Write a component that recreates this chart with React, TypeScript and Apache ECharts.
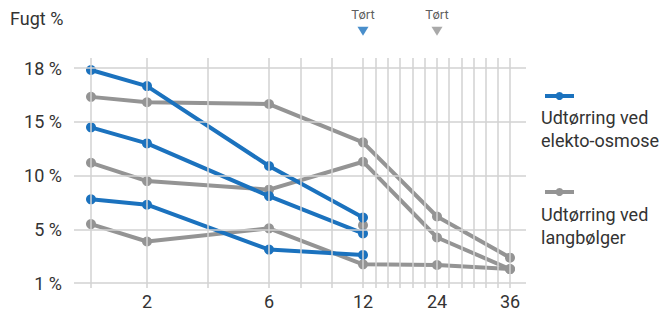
import React, { useEffect, useRef } from "react";
import * as echarts from "echarts";

// ---- Data (months, moisture %) ----
const months = [1, 2, 6, 12, 24, 36];
const osmoseMonths = [1, 2, 6, 12];
const osmoseA = [17.9, 17.0, 10.9, 6.1];
const osmoseB = [14.5, 13.0, 8.1, 4.7];
const osmoseC = [7.8, 7.3, 3.5, 3.1];
const langA = [16.4, 16.1, 16.0, 13.1, 6.2, 2.9];
const langB = [11.2, 9.5, 8.7, 11.3, 4.4, 2.05];
const langC = [5.5, 4.1, 5.1, 2.4, 2.35, 2.05];
const langExtraMonth = [12];
const langExtra = [5.4];

const yTickValues = [1, 5, 10, 15, 18];
const yTickLabels = ["1 %", "5 %", "10 %", "15 %", "18 %"];
const xTickMonths = [2, 6, 12, 24, 36];
const xTickLabels = ["2", "6", "12", "24", "36"];
const xGridMonths = [1, 2, 4, 6, 8, 10, 12, 14, 16, 18, 20, 22, 24, 26, 28, 30, 32, 34, 36];

const dryMonths = [12, 24];
const dryLabel = "Tørt";
const yAxisTitle = "Fugt %";

const seriesNames = ["Udtørring ved elekto-osmose", "Udtørring ved langbølger"];
const legendLabels = ["Udtørring ved\nelekto-osmose", "Udtørring ved\nlangbølger"];

// ---- Scale definitions (the original uses non-uniform axes) ----
const monthKnots = [1, 2, 6, 12, 24, 36];
const monthScale = [0, 56, 178, 272, 346, 419];
const markerLevel = 4.69; // in y-axis index units, above the 18 % line

const BLUE = "#1b72be";
const GRAY = "#949494";
const TEXT = "#333333";
const GRID = "#d2d2d2";
const FONT = "Roboto";

function piecewise(v: number, from: number[], to: number[]) {
  for (let i = 0; i < from.length - 1; i++) {
    if (v <= from[i + 1] || i === from.length - 2) {
      const t = (v - from[i]) / (from[i + 1] - from[i]);
      return to[i] + t * (to[i + 1] - to[i]);
    }
  }
  return to[0];
}
const xPos = (m: number) => piecewise(m, monthKnots, monthScale);
const yIdx = yTickValues.map((_, i) => i);
const yPos = (v: number) => piecewise(v, yTickValues, yIdx);

function toData(ms: number[], vs: number[]) {
  return ms.map((m, i) => [xPos(m), yPos(vs[i])]);
}

function lineSeries(name: string, ms: number[], vs: number[], color: string, z: number) {
  return {
    type: "line",
    name,
    data: toData(ms, vs),
    symbol: "circle",
    symbolSize: 10,
    showSymbol: true,
    lineStyle: { width: 4, color },
    itemStyle: { color },
    z,
    silent: true,
  };
}

export default function App() {
  const ref = useRef<HTMLDivElement>(null);
  useEffect(() => {
    if (!ref.current) return;
    const chart = echarts.init(ref.current, undefined, { renderer: "svg" });
    const option: any = {
      animation: false,
      backgroundColor: "#ffffff",
      textStyle: { fontFamily: FONT },
      title: [
        {
          text: yAxisTitle,
          left: 10,
          top: 7,
          padding: 0,
          textStyle: { fontSize: 18, fontWeight: "normal", color: TEXT, fontFamily: FONT, lineHeight: 22 },
        },
        ...legendLabels.map((t, i) => ({
          text: t,
          left: 541,
          top: i === 0 ? 106 : 203,
          padding: 0,
          textStyle: { fontSize: 18, fontWeight: "normal", color: TEXT, fontFamily: FONT, lineHeight: 23 },
        })),
      ],
      grid: { left: 74, right: 138, top: 58, bottom: 23, containLabel: false, outerBoundsMode: "none" },
      xAxis: {
        type: "value",
        min: -17,
        max: 435,
        splitLine: { show: false },
        axisLine: { show: false },
        axisTick: { show: false },
        axisLabel: {
          customValues: xTickMonths.map(xPos),
          formatter: (v: number) => {
            const i = xTickMonths.findIndex((m) => Math.abs(xPos(m) - v) < 0.01);
            return i >= 0 ? xTickLabels[i] : "";
          },
          fontSize: 18,
          color: TEXT,
          margin: 4,
          fontFamily: FONT,
        },
      },
      yAxis: {
        type: "value",
        min: -0.09,
        max: 4.19,
        splitLine: { show: false },
        axisLine: { show: false },
        axisTick: { show: false },
        axisLabel: {
          customValues: yIdx,
          formatter: (v: number) => yTickLabels[Math.round(v)] ?? "",
          fontSize: 18,
          color: TEXT,
          margin: 12,
          fontFamily: FONT,
        },
      },
      legend: seriesNames.map((n, i) => ({
        data: [n],
        left: 543,
        top: i === 0 ? 92 : 188,
        padding: 0,
        itemWidth: 29,
        itemHeight: 10,
        selectedMode: false,
        formatter: () => "",
        lineStyle: { width: 4, color: i === 0 ? BLUE : GRAY },
        itemStyle: { color: i === 0 ? BLUE : GRAY },
        textStyle: { fontSize: 1, lineHeight: 1 },
      })),
      series: [
        {
          type: "line",
          name: "grid",
          data: [],
          z: 1,
          silent: true,
          markLine: {
            silent: true,
            symbol: ["none", "none"],
            label: { show: false },
            lineStyle: { color: GRID, width: 1.5, type: "solid" },
            data: [
              ...xGridMonths.map((m) => ({ xAxis: xPos(m) })),
              ...yTickValues.map((v) => ({ yAxis: yPos(v) })),
            ],
          },
        },
        {
          type: "scatter",
          name: dryLabel,
          clip: false,
          silent: true,
          symbol: "triangle",
          symbolRotate: 180,
          symbolSize: [11, 9],
          z: 4,
          label: {
            show: true,
            position: "top",
            distance: 6,
            formatter: dryLabel,
            color: TEXT,
            fontSize: 13,
            fontFamily: FONT,
          },
          data: dryMonths.map((m, i) => ({
            value: [xPos(m), markerLevel],
            itemStyle: { color: i === 0 ? BLUE : GRAY },
          })),
        },
        lineSeries(seriesNames[1], months, langA, GRAY, 2),
        lineSeries(seriesNames[1], months, langB, GRAY, 2),
        lineSeries(seriesNames[1], months, langC, GRAY, 2),
        lineSeries(seriesNames[1], langExtraMonth, langExtra, GRAY, 2),
        lineSeries(seriesNames[0], osmoseMonths, osmoseA, BLUE, 3),
        lineSeries(seriesNames[0], osmoseMonths, osmoseB, BLUE, 3),
        lineSeries(seriesNames[0], osmoseMonths, osmoseC, BLUE, 3),
      ],
    };
    chart.setOption(option);
    return () => chart.dispose();
  }, []);
  return (
    <div
      ref={ref}
      style={{ position: "fixed", left: 0, top: 0, width: 664, height: 311, background: "#fff" }}
    />
  );
}
